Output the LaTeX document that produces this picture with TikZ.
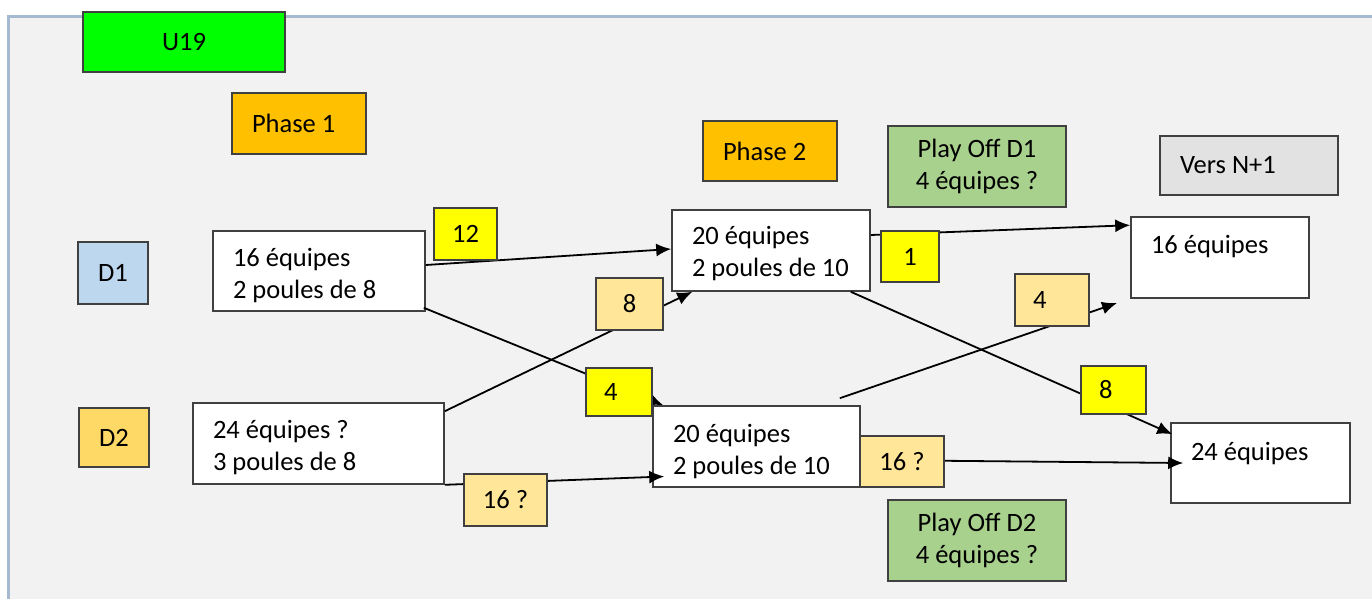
\documentclass[tikz,border=0pt]{standalone}
\usepackage{fontspec}
\setmainfont{Carlito}
\usetikzlibrary{arrows.meta}
\definecolor{bg}{HTML}{F2F2F2}
\definecolor{frameblue}{HTML}{A5B9D1}
\definecolor{ugreen}{HTML}{00FF00}
\definecolor{phorange}{HTML}{FFC000}
\definecolor{lorange}{HTML}{FFE699}
\definecolor{dtwo}{HTML}{FFD966}
\definecolor{dblue}{HTML}{BDD7EE}
\definecolor{pogreen}{HTML}{A9D18E}
\definecolor{vgray}{HTML}{E2E2E2}
\definecolor{yel}{HTML}{FFFF00}
\definecolor{edgegray}{HTML}{404040}
\begin{document}
\begin{tikzpicture}[x=1pt,y=-1pt,
  base/.style={draw=edgegray, line width=1.6pt, rectangle, inner ysep=0pt, font=\fontsize{26.5}{32}\selectfont,
    execute at begin node={\spaceskip=0pt\xspaceskip=0pt\relax}},
  cbox/.style={base, align=center, inner xsep=0pt},
  lbox/.style={base, align=left, inner xsep=20pt},
  arr/.style={draw=black, line width=1.8pt, -{Latex[length=15pt,width=13pt]}},
]
\useasboundingbox (0,0) rectangle (1372,599);
\fill[bg] (8,16) rectangle (1372,599);
\draw[frameblue, line width=2.5pt] (8.5,599) -- (8.5,16.5) -- (1372,16.5);

% header boxes
\node[cbox, fill=ugreen, minimum width=202pt, minimum height=60pt] (u19) at (184,42) {U19};
\node[lbox, fill=phorange, text width=94pt, minimum height=61pt] (ph1) at (299,123.5) {Phase 1};
\node[lbox, fill=phorange, text width=94pt, minimum height=60pt] (ph2) at (770,151) {Phase 2};
\node[cbox, fill=pogreen, minimum width=178pt, minimum height=81pt] (po1) at (977,166.5) {Play Off D1\\4 équipes ?};
\node[lbox, fill=vgray, text width=138pt, minimum height=59pt] (vers) at (1249,165.5) {Vers N+1};
\node[cbox, fill=dblue, minimum width=70pt, minimum height=62pt] (d1) at (113,273) {D1};
\node[cbox, fill=dtwo, minimum width=70pt, minimum height=59pt] (d2) at (114,437.5) {D2};
\node[cbox, fill=pogreen, minimum width=178pt, minimum height=81pt] (po2) at (977,540.5) {Play Off D2\\4 équipes ?};

% main boxes
\node[lbox, fill=white, text width=172pt, text height=35pt, text depth=45pt] (a) at (319,271) {\mbox{16 équipes}\\\mbox{2 poules de 8}};
\node[lbox, fill=white, text width=211pt, text height=35pt, text depth=46pt] (b) at (318.5,443.5) {\mbox{24 équipes ?}\\\mbox{3 poules de 8}};
\node[lbox, fill=white, text width=158pt, text height=34pt, text depth=47pt] (c) at (771,250.5) {\mbox{20 équipes}\\\mbox{2 poules de 10}};
\node[lbox, fill=white, text width=167pt, text height=36pt, text depth=45pt] (e) at (756.5,446.5) {\mbox{20 équipes}\\\mbox{2 poules de 10}};
\node[lbox, fill=white, text width=138pt, text height=36pt, text depth=45pt] (f) at (1220,257.5) {16 équipes};
\node[lbox, fill=white, text width=139pt, text height=37pt, text depth=43pt] (g) at (1260.5,463) {24 équipes};

% connectors
\coordinate (fe) at (1117,303);
\draw[arr] ([yshift=6pt]a.east) -- ([yshift=1.5pt]c.west);
\draw[arr] ([xshift=-2pt,yshift=4pt]a.south east) -- ([xshift=11pt]e.north west);
\draw[arr] ([yshift=-9pt]b.north east) -- ([xshift=21pt]c.south west);
\draw[arr] (b.south east) -- ([xshift=12pt,yshift=-30pt]e.west);
\draw[arr] ([yshift=15.5pt]c.east) -- ([yshift=-9pt]f.north west);
\draw[arr] ([xshift=-20pt]c.south east) -- ([xshift=2pt,yshift=-12pt]g.north west);
\draw[arr] ([xshift=-21pt,yshift=7pt]e.north east) -- (fe);
\draw[arr] ([yshift=-13.5pt]e.east) -- ([xshift=13pt]g.west);

% count labels
\node[cbox, fill=yel, minimum width=63pt, minimum height=52pt] (l12) at (465.5,234) {12};
\node[cbox, fill=lorange, minimum width=67pt, minimum height=52pt] (l8a) at (629.5,304) {8};
\node[lbox, fill=yel, inner xsep=18pt, text width=30pt, minimum height=48pt] (l4a) at (619,392) {4};
\node[cbox, fill=lorange, minimum width=83pt, minimum height=52pt] (l16a) at (505.5,500) {16 ?};
\node[cbox, fill=yel, minimum width=58pt, minimum height=51pt] (l1) at (910,256.5) {1};
\node[lbox, fill=lorange, inner xsep=18pt, text width=38pt, minimum height=52pt] (l4b) at (1052,300) {4};
\node[lbox, fill=yel, inner xsep=18pt, text width=29pt, minimum height=48pt] (l8b) at (1113.5,390) {8};
\node[cbox, fill=lorange, minimum width=84pt, minimum height=51pt] (l16b) at (902,461.5) {16 ?};
\end{tikzpicture}
\end{document}
